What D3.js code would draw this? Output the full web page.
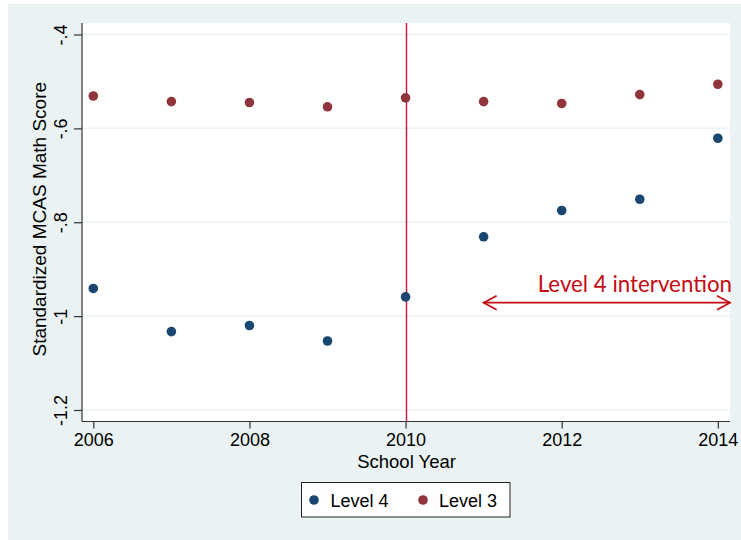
<!DOCTYPE html>
<html>
<head>
<meta charset="utf-8">
<script src="https://cdnjs.cloudflare.com/ajax/libs/d3/7.8.5/d3.min.js"></script>
<style>
  html, body { margin: 0; padding: 0; background: #ffffff; }
  svg { display: block; }
</style>
</head>
<body>
<div id="chart"></div>
<script>
// School years on the x axis
const years = [2006, 2007, 2008, 2009, 2010, 2011, 2012, 2013, 2014];
// Mean standardized MCAS math scores by school group
const level4 = [-0.941, -1.033, -1.020, -1.053, -0.959, -0.831, -0.775, -0.751, -0.621];
const level3 = [-0.531, -0.543, -0.545, -0.554, -0.535, -0.543, -0.547, -0.528, -0.506];
// Axis ticks and their printed labels
const yTicks = [-0.4, -0.6, -0.8, -1.0, -1.2];
const yTickLabels = ["-.4", "-.6", "-.8", "-1", "-1.2"];
const xTicks = [2006, 2008, 2010, 2012, 2014];
// Intervention start and the span it covers
const interventionYear = 2010;
const interventionSpan = [2011, 2014.156];
const interventionLabel = "Level 4 intervention";
const seriesNames = ["Level 4", "Level 3"];

const W = 741, H = 540;
const plot = { left: 82, right: 730, top: 23, bottom: 421.5 };
const navy = "#1a476f", maroon = "#90353b";
const bg = "#eaf2f3";
const red = "#c40a14";
const sans = "Liberation Sans, Arial, sans-serif";

const svg = d3.select("#chart").append("svg")
  .attr("width", W).attr("height", H);

// Graph region background
svg.append("rect").attr("x", 8).attr("y", 4).attr("width", W - 8).attr("height", H - 4)
  .attr("fill", bg);
// Plot region
svg.append("rect").attr("x", plot.left).attr("y", plot.top)
  .attr("width", plot.right - plot.left).attr("height", plot.bottom - plot.top)
  .attr("fill", "#ffffff");

const x = d3.scaleLinear().domain([2005.855, 2014.156]).range([plot.left, plot.right]);
const y = d3.scaleLinear().domain([-1.2245, -0.3755]).range([plot.bottom, plot.top]);

// Horizontal grid lines
svg.append("g").selectAll("line").data(yTicks).join("line")
  .attr("x1", plot.left).attr("x2", plot.right)
  .attr("y1", d => y(d)).attr("y2", d => y(d))
  .attr("stroke", bg).attr("stroke-width", 1.5);

// Y axis with vertical tick labels
const yAxis = d3.axisLeft(y).tickValues(yTicks)
  .tickFormat((d, i) => yTickLabels[i]).tickSizeInner(8).tickSizeOuter(0);
const gy = svg.append("g").attr("transform", `translate(${plot.left},0)`).call(yAxis);
gy.select(".domain").attr("stroke", "#333").attr("stroke-width", 1.2)
  .attr("d", `M0,${plot.top}V${plot.bottom}`);
gy.selectAll(".tick line").attr("stroke", "#333").attr("stroke-width", 1.2);
gy.selectAll(".tick text")
  .attr("font-family", sans)
  .attr("font-size", 18).attr("fill", "#000")
  .attr("transform", "rotate(-90)")
  .attr("x", 0).attr("y", -15).attr("dy", "0")
  .attr("text-anchor", "middle");

// X axis
const xAxis = d3.axisBottom(x).tickValues(xTicks).tickFormat(d3.format("d"))
  .tickSizeInner(7).tickSizeOuter(0).tickPadding(5);
const gx = svg.append("g").attr("transform", `translate(0,${plot.bottom})`).call(xAxis);
gx.select(".domain").attr("stroke", "#333").attr("stroke-width", 1.2)
  .attr("d", `M${plot.left},0H${plot.right}`);
gx.selectAll(".tick line").attr("stroke", "#333").attr("stroke-width", 1.2);
gx.selectAll(".tick text")
  .attr("font-family", sans)
  .attr("font-size", 18).attr("fill", "#000");

// Axis titles
svg.append("text")
  .attr("x", (x(2006) + x(2014)) / 2 + 1).attr("y", 468)
  .attr("text-anchor", "middle")
  .attr("font-family", sans)
  .attr("font-size", 18.5).attr("fill", "#000")
  .text("School Year");

svg.append("text")
  .attr("transform", `translate(46,${(y(-0.4) + y(-1.2)) / 2 - 3}) rotate(-90)`)
  .attr("text-anchor", "middle")
  .attr("font-family", sans)
  .attr("font-size", 19).attr("fill", "#000")
  .text("Standardized MCAS Math Score");

// Vertical reference line at the intervention year, snapped to a pixel column
const vx = Math.round(x(interventionYear)) + 0.5;
svg.append("line")
  .attr("x1", vx).attr("x2", vx)
  .attr("y1", plot.top).attr("y2", plot.bottom)
  .attr("stroke", "#d0103e").attr("stroke-width", 1.4);

// Points
const r = 4.8;
svg.append("g").selectAll("circle").data(years).join("circle")
  .attr("cx", d => x(d)).attr("cy", (d, i) => y(level4[i])).attr("r", r)
  .attr("fill", navy);
svg.append("g").selectAll("circle").data(years).join("circle")
  .attr("cx", d => x(d)).attr("cy", (d, i) => y(level3[i])).attr("r", r)
  .attr("fill", maroon);

// Double-headed arrow marking the intervention period
const ay = 302.7;
const ax1 = x(interventionSpan[0]), ax2 = x(interventionSpan[1]);
const head = 13, half = 7;
const arrow = svg.append("g").attr("stroke", red).attr("stroke-width", 1.7).attr("fill", "none");
arrow.append("line").attr("x1", ax1).attr("x2", ax2).attr("y1", ay).attr("y2", ay);
arrow.append("path").attr("d", `M${ax1 + head},${ay - half}L${ax1},${ay}L${ax1 + head},${ay + half}`);
arrow.append("path").attr("d", `M${ax2 - head},${ay - half}L${ax2},${ay}L${ax2 - head},${ay + half}`);

svg.append("text")
  .attr("x", 732).attr("y", 292)
  .attr("text-anchor", "end")
  .attr("font-family", "Lato, 'Open Sans', sans-serif")
  .attr("font-size", 22.3).attr("fill", red)
  .text(interventionLabel);

// Legend
const legend = svg.append("g");
legend.append("rect").attr("x", 301.5).attr("y", 482.5).attr("width", 208.5).attr("height", 34.5)
  .attr("fill", "#fff").attr("stroke", "#222").attr("stroke-width", 1);
const legItems = [
  { name: seriesNames[0], color: navy, dx: 314, tx: 330.5 },
  { name: seriesNames[1], color: maroon, dx: 423, tx: 439 }
];
legItems.forEach(it => {
  legend.append("circle").attr("cx", it.dx).attr("cy", 500).attr("r", r).attr("fill", it.color);
  legend.append("text").attr("x", it.tx).attr("y", 506.5)
    .attr("font-family", sans)
    .attr("font-size", 18).attr("fill", "#000").text(it.name);
});
</script>
</body>
</html>
